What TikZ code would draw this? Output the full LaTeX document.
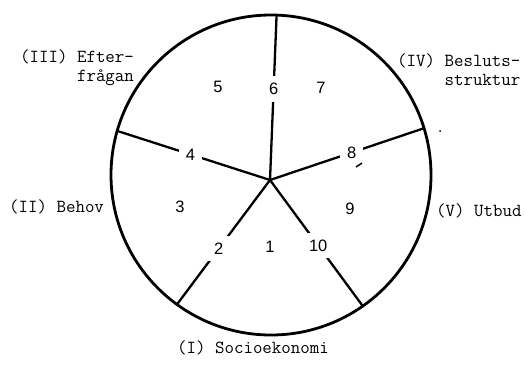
\documentclass[tikz,border=0pt]{standalone}
\usepackage{fontspec}
\setsansfont{Liberation Sans}
\usetikzlibrary{positioning}
\begin{document}
\begin{tikzpicture}[x=1pt, y=-1pt,
  rim/.style={draw=black, circle, line width=2.8pt, minimum size=320pt,
              inner sep=0pt, outer sep=0pt},
  spoke/.style={line width=2.3pt, black},
  factor/.style={font=\sffamily\fontsize{16.5}{19}\selectfont, inner sep=0pt},
  cut/.style={factor, fill=white, inner sep=7pt},
  area/.style={font=\ttfamily\fontsize{18.4}{19}\selectfont, align=left,
               inner sep=0pt}
]
\useasboundingbox (0,0) rectangle (526,367);
\node[rim] (rim) at (271,175) {};
\coordinate (hub) at (270,180);
\draw[spoke] (hub) -- node[cut, pos=.55] (f6) {6} (rim.88);
\draw[spoke] (hub) -- node[cut, pos=.52] (f4) {4} (rim.164);
\draw[spoke] (hub) -- node[cut, pos=.53] (f8) {8} (rim.17.5);
\draw[spoke] (hub) -- node[cut, pos=.55] (f2) {2} (rim.234);
\draw[spoke] (hub) -- node[cut, pos=.52] (f10) {10} (rim.305.5);
% numbers inside the sectors
\node[factor] (f5) at (218,87) {5};
\node[factor] (f7) at (321,88) {7};
\node[factor] (f3) at (180,207) {3};
\node[factor] (f9) at (350,209) {9};
\node[factor] (f1) at (270,247) {1};
% sector names
\node[area, anchor=west] (efter) at (20,68) {(III) Efter-\\\hphantom{(III) }frågan};
\node[area, anchor=west] (beslut) at (397,70) {(IV) Besluts-\\\hphantom{(IV) }struktur};
\node[area, anchor=west] (behov) at (9,207) {(II) Behov};
\node[area, anchor=west] (utbud) at (436,211) {(V) Utbud};
\node[area] (socio) at (253,348) {(I) Socioekonomi};
% stray marks of the original
\draw[line width=1.5pt] (356,167) -- (362,163);
\fill (440,131) circle (1pt);
\end{tikzpicture}
\end{document}
